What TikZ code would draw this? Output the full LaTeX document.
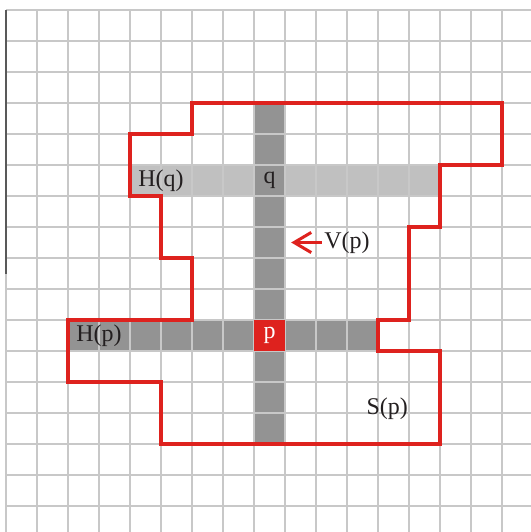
\documentclass[tikz,border=0pt]{standalone}
\usepackage{fontspec}
\setmainfont{Liberation Serif}
\usepackage{xcolor}
\usetikzlibrary{arrows.meta}
\definecolor{gridgray}{RGB}{200,200,200}
\definecolor{darkcell}{RGB}{147,147,147}
\definecolor{lightcell}{RGB}{192,192,192}
\definecolor{outline}{RGB}{222,34,30}
\definecolor{inkgray}{RGB}{35,31,32}
\tikzset{
  gridline/.style={gridgray, line width=2pt},
  region/.style={outline, line width=3.3pt, line join=miter},
  lbl/.style={text=inkgray}
}
\begin{document}
\begin{tikzpicture}[x=1cm, y=-1cm, every node/.style={font=\fontsize{22}{26}\selectfont}]
      \clip (-0.194,-0.323) rectangle (16.935,16.839);
      % shaded cells: H(q), V(p), H(p)
      \fill[lightcell] (4,5) rectangle (14,6);
      \fill[darkcell] (8,3) rectangle (9,14);
      \fill[darkcell] (2,10) rectangle (12,11);
      % grid
      \draw[gridline] (0,0) grid (17,17);
      \draw[line width=2pt, black!65] (0,0) -- (0,8.5);
      % pixel p
      \node[fill=outline, text=white, minimum size=1cm, inner sep=0pt] (p) at (8.5,10.5) {p};
      % S(p) outline
      \draw[region] (4,4) -- (6,4) -- (6,3) -- (16,3) -- (16,5) -- (14,5)
        -- (14,7) -- (13,7) -- (13,10) -- (12,10) -- (12,11) -- (14,11)
        -- (14,14) -- (5,14) -- (5,12) -- (2,12) -- (2,10) -- (6,10)
        -- (6,8) -- (5,8) -- (5,6) -- (4,6) -- cycle;
      % labels
      \node[lbl] (hq) at (5.0,5.5) {H(q)};
      \node[lbl] (q) at (8.5,5.5) {q};
      \node[lbl, inner sep=2pt] (vp) at (11.0,7.5) {V(p)};
      \node[lbl] (hp) at (3.0,10.5) {H(p)};
      \node[lbl] (sp) at (12.3,12.85) {S(p)};
      % arrow to V(p)
      \coordinate (vtip) at (9.2,7.5);
      \draw[outline, line width=2.8pt, -{Straight Barb[length=5.5mm, width=6.5mm]}] (vp.west) -- (vtip);
\end{tikzpicture}
\end{document}
